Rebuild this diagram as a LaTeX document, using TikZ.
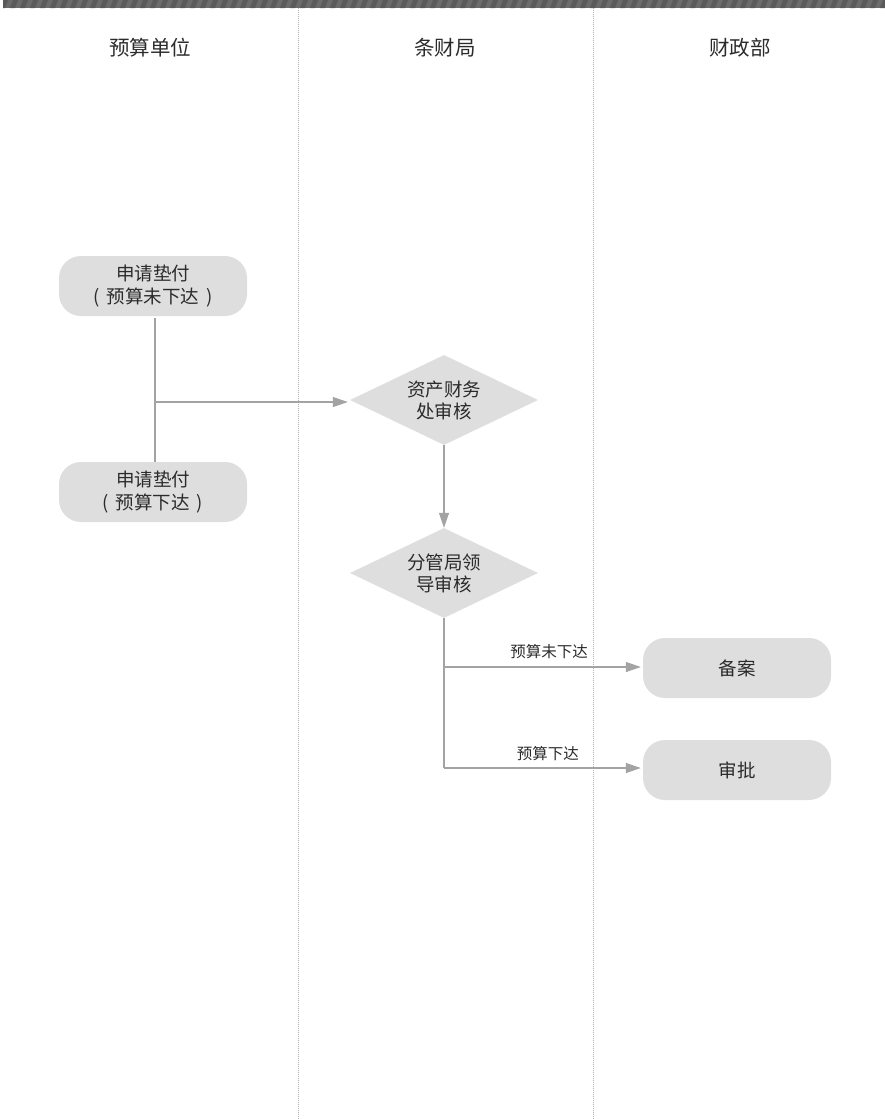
\documentclass[tikz,border=0pt]{standalone}
\usepackage{fontspec}
\setmainfont{Noto Sans CJK SC}
\usetikzlibrary{shapes.geometric,arrows.meta}
\definecolor{boxfill}{HTML}{DEDEDE}
\definecolor{linec}{HTML}{A3A3A3}
\definecolor{txt}{HTML}{2B2B2B}
\definecolor{band}{HTML}{6B6B6B}
\definecolor{bandd}{HTML}{5A5A5A}
\tikzset{
  x=1pt,y=-1pt,
  every node/.style={text=txt},
  roundbox/.style={draw=none,fill=boxfill,rounded corners=22pt,minimum width=188pt,minimum height=60pt,align=center,inner sep=0pt,font=\fontsize{18.5}{23}\selectfont},
  decision/.style={diamond,draw=none,fill=boxfill,minimum width=188pt,minimum height=90pt,aspect=2.09,inner sep=0pt,align=center,font=\fontsize{18.5}{22}\selectfont},
  header/.style={font=\fontsize{20.5}{24}\selectfont},
  flow/.style={draw=linec,line width=1.2pt,-{Triangle[length=15pt,width=10pt]}},
  plain/.style={draw=linec,line width=1.2pt},
  lane/.style={draw=gray!60,line width=0.6pt,dash pattern=on 1pt off 1pt},
  edgelabel/.style={font=\fontsize{15.5}{18}\selectfont}
}
\begin{document}
\begin{tikzpicture}
\useasboundingbox (0,0) rectangle (885,1119);
% top band
\fill[band] (3,0) rectangle (885,8);
\begin{scope}
\clip (3,0) rectangle (885,8);
\foreach \i in {0,10,...,900}{
  \fill[bandd] (\i,8) -- (\i+5,8) -- (\i+8,0) -- (\i+3,0) -- cycle;
}
\end{scope}
% lanes
\draw[lane] (298,8) -- (298,1119);
\draw[lane] (593,8) -- (593,1119);
% headers
\node[header] (h1) at (150,48) {预算单位};
\node[header] (h2) at (445,48) {条财局};
\node[header] (h3) at (740,48) {财政部};
% nodes
\node[roundbox] (b1) at (153,286) {申请垫付\\(\hspace{7pt}预算未下达\hspace{7pt})};
\node[roundbox] (b2) at (153,492) {申请垫付\\(\hspace{7pt}预算下达\hspace{7pt})};
\node[decision] (d1) at (444,400) {资产财务\\处审核};
\node[decision] (d2) at (444,573) {分管局领\\导审核};
\node[roundbox] (r1) at (737,668) {备案};
\node[roundbox] (r2) at (737,770) {审批};
% connectors
\coordinate (j1) at (155,402);
\draw[plain] (155,318) -- (155,462);
\draw[flow] (j1) -- ([xshift=-2pt]d1.west |- j1);
\draw[flow] (d1.south) -- (d2.north);
\coordinate (c1) at (444,667);
\coordinate (c2) at (444,768);
\draw[plain] (d2.south) -- (c2);
\draw[flow] (c1) -- ([xshift=-2pt]r1.west |- c1);
\draw[flow] (c2) -- ([xshift=-2pt]r2.west |- c2);
\node[edgelabel,anchor=south east,inner sep=0pt] (l1) at (588,659) {预算未下达};
\node[edgelabel,anchor=south east,inner sep=0pt] (l2) at (579,761) {预算下达};
\end{tikzpicture}
\end{document}
